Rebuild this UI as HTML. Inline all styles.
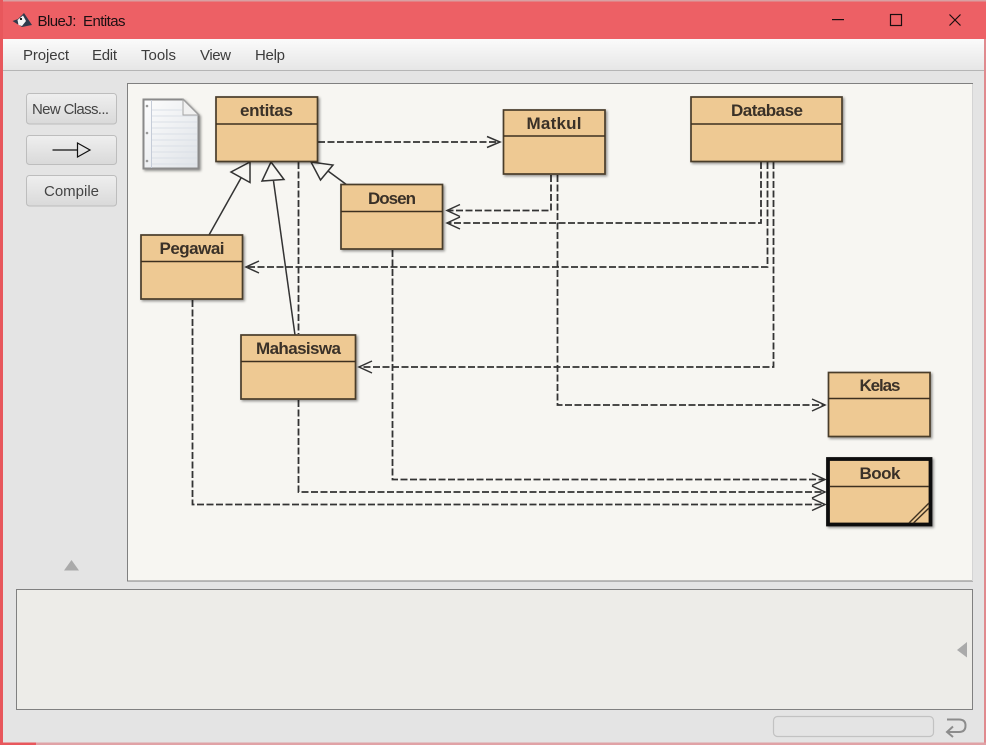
<!DOCTYPE html>
<html>
<head>
<meta charset="utf-8">
<style>
html,body{margin:0;padding:0;background:#e4e4e4}
body{width:986px;height:745px;overflow:hidden;position:relative}
svg{position:absolute;left:0;top:0}
text{font-family:"Liberation Sans",sans-serif}
</style>
</head>
<body>
<svg width="986" height="745" viewBox="0 0 986 745" xmlns="http://www.w3.org/2000/svg">
<defs>
<linearGradient id="menu" x1="0" y1="0" x2="0" y2="1"><stop offset="0" stop-color="#fbfbfb"/><stop offset="1" stop-color="#e6e6e6"/></linearGradient>
<linearGradient id="btn" x1="0" y1="0" x2="0" y2="1"><stop offset="0" stop-color="#efefef"/><stop offset="1" stop-color="#d9d9d9"/></linearGradient>
<linearGradient id="paper" x1="0" y1="0" x2="1" y2="1"><stop offset="0" stop-color="#fdfdfd"/><stop offset="1" stop-color="#dfe3e8"/></linearGradient>
<filter id="sh" x="-10%" y="-10%" width="125%" height="125%"><feDropShadow dx="1.5" dy="1.5" stdDeviation="1.2" flood-color="#000" flood-opacity=".4"/></filter>
</defs>

<!-- window -->
<rect width="986" height="745" fill="#e4e4e4"/>
<rect x="0" y="0" width="986" height="39" fill="#ed6065"/>
<rect x="0" y="0" width="986" height="1.5" fill="#d9a0a2"/>
<rect x="0" y="0" width="3" height="745" fill="#e8575c"/>
<rect x="984" y="39" width="2" height="706" fill="#e08a8e"/>
<rect x="0" y="742.5" width="986" height="2.5" fill="#e0a2a6"/>
<rect x="0" y="742.5" width="36" height="2.5" fill="#e8575c"/>
<rect x="3" y="39" width="981" height="31" fill="url(#menu)"/>
<rect x="3" y="70" width="981" height="1" fill="#b5b5b5"/>

<!-- title bar -->
<g>
<path d="M12.5 21 L18 19 L24 13 L32 25 L22 27 Z" fill="#2f3a4c"/>
<path d="M17.5 20 L23 15.5 L26 21 L22 26 L18.5 25 Z" fill="#f4f4f4"/>
<rect x="20" y="18" width="2" height="2" fill="#222"/>
</g>
<text x="37.5" y="26" font-size="15" fill="#1c1013" textLength="88" lengthAdjust="spacing" xml:space="preserve">BlueJ:  Entitas</text>
<rect x="832" y="19" width="12" height="1.2" fill="#1a0e10"/>
<rect x="890.5" y="14.5" width="11" height="11" fill="none" stroke="#1a0e10" stroke-width="1.2"/>
<path d="M949.5 14.5 L960.5 25.5 M960.5 14.5 L949.5 25.5" stroke="#1a0e10" stroke-width="1.2" fill="none"/>

<!-- menu -->
<g font-size="15" fill="#3c3c3c">
<text x="23" y="60" textLength="46">Project</text>
<text x="92" y="60" textLength="25">Edit</text>
<text x="141" y="60" textLength="35">Tools</text>
<text x="200" y="60" textLength="31">View</text>
<text x="255" y="60" textLength="30">Help</text>
</g>

<!-- buttons -->
<rect x="26.5" y="93.5" width="90" height="30.5" rx="3" fill="url(#btn)" stroke="#bdbdbd"/>
<rect x="26.5" y="135.5" width="90" height="29" rx="3" fill="url(#btn)" stroke="#bdbdbd"/>
<rect x="26.5" y="175.5" width="90" height="30.5" rx="3" fill="url(#btn)" stroke="#bdbdbd"/>
<text x="32" y="114" font-size="15" fill="#444" textLength="77">New Class...</text>
<text x="44" y="196" font-size="15" fill="#444" textLength="55">Compile</text>
<path d="M52.5 150 H77.5" stroke="#111" stroke-width="1.2" fill="none"/>
<path d="M77.5 143 L90 150 L77.5 157 Z" fill="none" stroke="#111" stroke-width="1.2"/>
<path d="M71.5 560 L79 570.5 H64 Z" fill="#aaaaaa"/>

<!-- canvas -->
<rect x="127.5" y="83.5" width="845" height="497.5" fill="#f7f6f2" stroke="#808080"/>
<rect x="972" y="84" width="1" height="497" fill="#d4d4d4"/>

<!-- note -->
<path d="M143.5 99.5 H183 L198.5 115 V168.5 H143.5 Z" fill="url(#paper)" stroke="#8a8a8a" stroke-width="2" filter="url(#sh)"/>
<path d="M183 99.5 V115 H198.5 Z" fill="#f1f1f1" stroke="#a5a5a5"/>
<path d="M151.5 100 V168" stroke="#c5ccd8"/>
<g stroke="#dbe0e7" stroke-width="1">
<path d="M152 110H182M152 116H197M152 122H197M152 128H197M152 134H197M152 140H197M152 146H197M152 152H197M152 158H197M152 164H197"/>
</g>
<circle cx="147" cy="106" r="1.3" fill="#999"/><circle cx="147" cy="133" r="1.3" fill="#999"/><circle cx="147" cy="161" r="1.3" fill="#999"/>

<!-- dependency lines -->
<g fill="none" stroke="#333" stroke-width="1.8" stroke-dasharray="7 2.5">
<path d="M318 142 H499"/>
<path d="M298.5 162 V334"/>
<path d="M551 175 V210.5 H447"/>
<path d="M557.5 175 V405 H825"/>
<path d="M761 162 V223 H447"/>
<path d="M767.5 162 V267 H246"/>
<path d="M773.5 162 V367 H359"/>
<path d="M392.5 250 V479.5 H825"/>
<path d="M298.5 400 V492 H825"/>
<path d="M192.5 300 V504.5 H825"/>
</g>
<!-- open arrowheads -->
<g fill="none" stroke="#333" stroke-width="1.5">
<path d="M487 136.5 L500 142 L487 147.5"/>
<path d="M460 204.5 L447 210.5 L460 216.5"/>
<path d="M460 217 L447 223 L460 229"/>
<path d="M259 261 L246 267 L259 273"/>
<path d="M372 361 L359 367 L372 373"/>
<path d="M812 399 L825 405 L812 411"/>
<path d="M812 473.5 L825 479.5 L812 485.5"/>
<path d="M812 486 L825 492 L812 498"/>
<path d="M812 498.5 L825 504.5 L812 510.5"/>
</g>

<!-- inheritance -->
<g fill="none" stroke="#333" stroke-width="1.5">
<path d="M209 235 L241 178"/>
<path d="M295 335 L273.5 181"/>
<path d="M347 185 L328 171"/>
</g>
<g fill="#f7f6f2" stroke="#333" stroke-width="1.5">
<path d="M250 162 L250 182.5 L231 172 Z"/>
<path d="M271 162 L284 179.5 L262 181 Z"/>
<path d="M311 162 L333 165 L320.5 180 Z"/>
</g>

<!-- classes -->
<g stroke="#4a3c2c" stroke-width="1.7" fill="#eec993" filter="url(#sh)">
<rect x="216" y="97" width="101.5" height="64.5"/>
<rect x="503.5" y="110" width="101.5" height="64"/>
<rect x="691" y="97" width="151" height="64.5"/>
<rect x="341" y="184.5" width="101.5" height="64.5"/>
<rect x="141" y="235" width="101.5" height="64"/>
<rect x="241" y="335" width="114.5" height="64"/>
<rect x="828.5" y="372.5" width="101.5" height="64"/>
</g>
<rect x="828" y="459" width="102.5" height="65.5" fill="#eec993" stroke="#111" stroke-width="3.8" filter="url(#sh)"/>
<g stroke="#3d3020" stroke-width="1.4" fill="none">
<path d="M216 124H317.5M503.5 136H605M691 124H842M341 211.5H442.5M141 261.5H242.5M241 361.5H355.5M828.5 398.5H930M830 486.5H929"/>
</g>
<g stroke="#3d3020" stroke-width="1.4" fill="none">
<path d="M909 523 L929 503M913.5 523 L929 508"/>
</g>
<g font-size="17" font-weight="bold" fill="#3a3128" text-anchor="middle">
<text x="266.5" y="116" textLength="53">entitas</text>
<text x="554" y="129" textLength="55">Matkul</text>
<text x="767" y="116" textLength="72">Database</text>
<text x="392" y="204" textLength="48">Dosen</text>
<text x="192" y="254" textLength="65">Pegawai</text>
<text x="298.5" y="354" textLength="85">Mahasiswa</text>
<text x="880" y="391" textLength="41">Kelas</text>
<text x="880" y="479" textLength="41">Book</text>
</g>

<!-- terminal panel -->
<rect x="16.5" y="589.5" width="956" height="120" fill="#edece8" stroke="#808080"/>
<path d="M967 642 V657.5 L957 650 Z" fill="#aaaaaa"/>

<!-- status bar -->
<rect x="773.5" y="716.5" width="160" height="20" rx="4" fill="#e4e4e4" stroke="#c2c2c2" stroke-width="1.2"/>
<path d="M947 719.5 H959 Q965.5 719.5 965.5 725.5 Q965.5 732 959 732 H948" fill="none" stroke="#8c8c8c" stroke-width="2"/>
<path d="M953 726.5 L947 732 L953 737" fill="none" stroke="#8c8c8c" stroke-width="2"/>
</svg>
</body>
</html>
